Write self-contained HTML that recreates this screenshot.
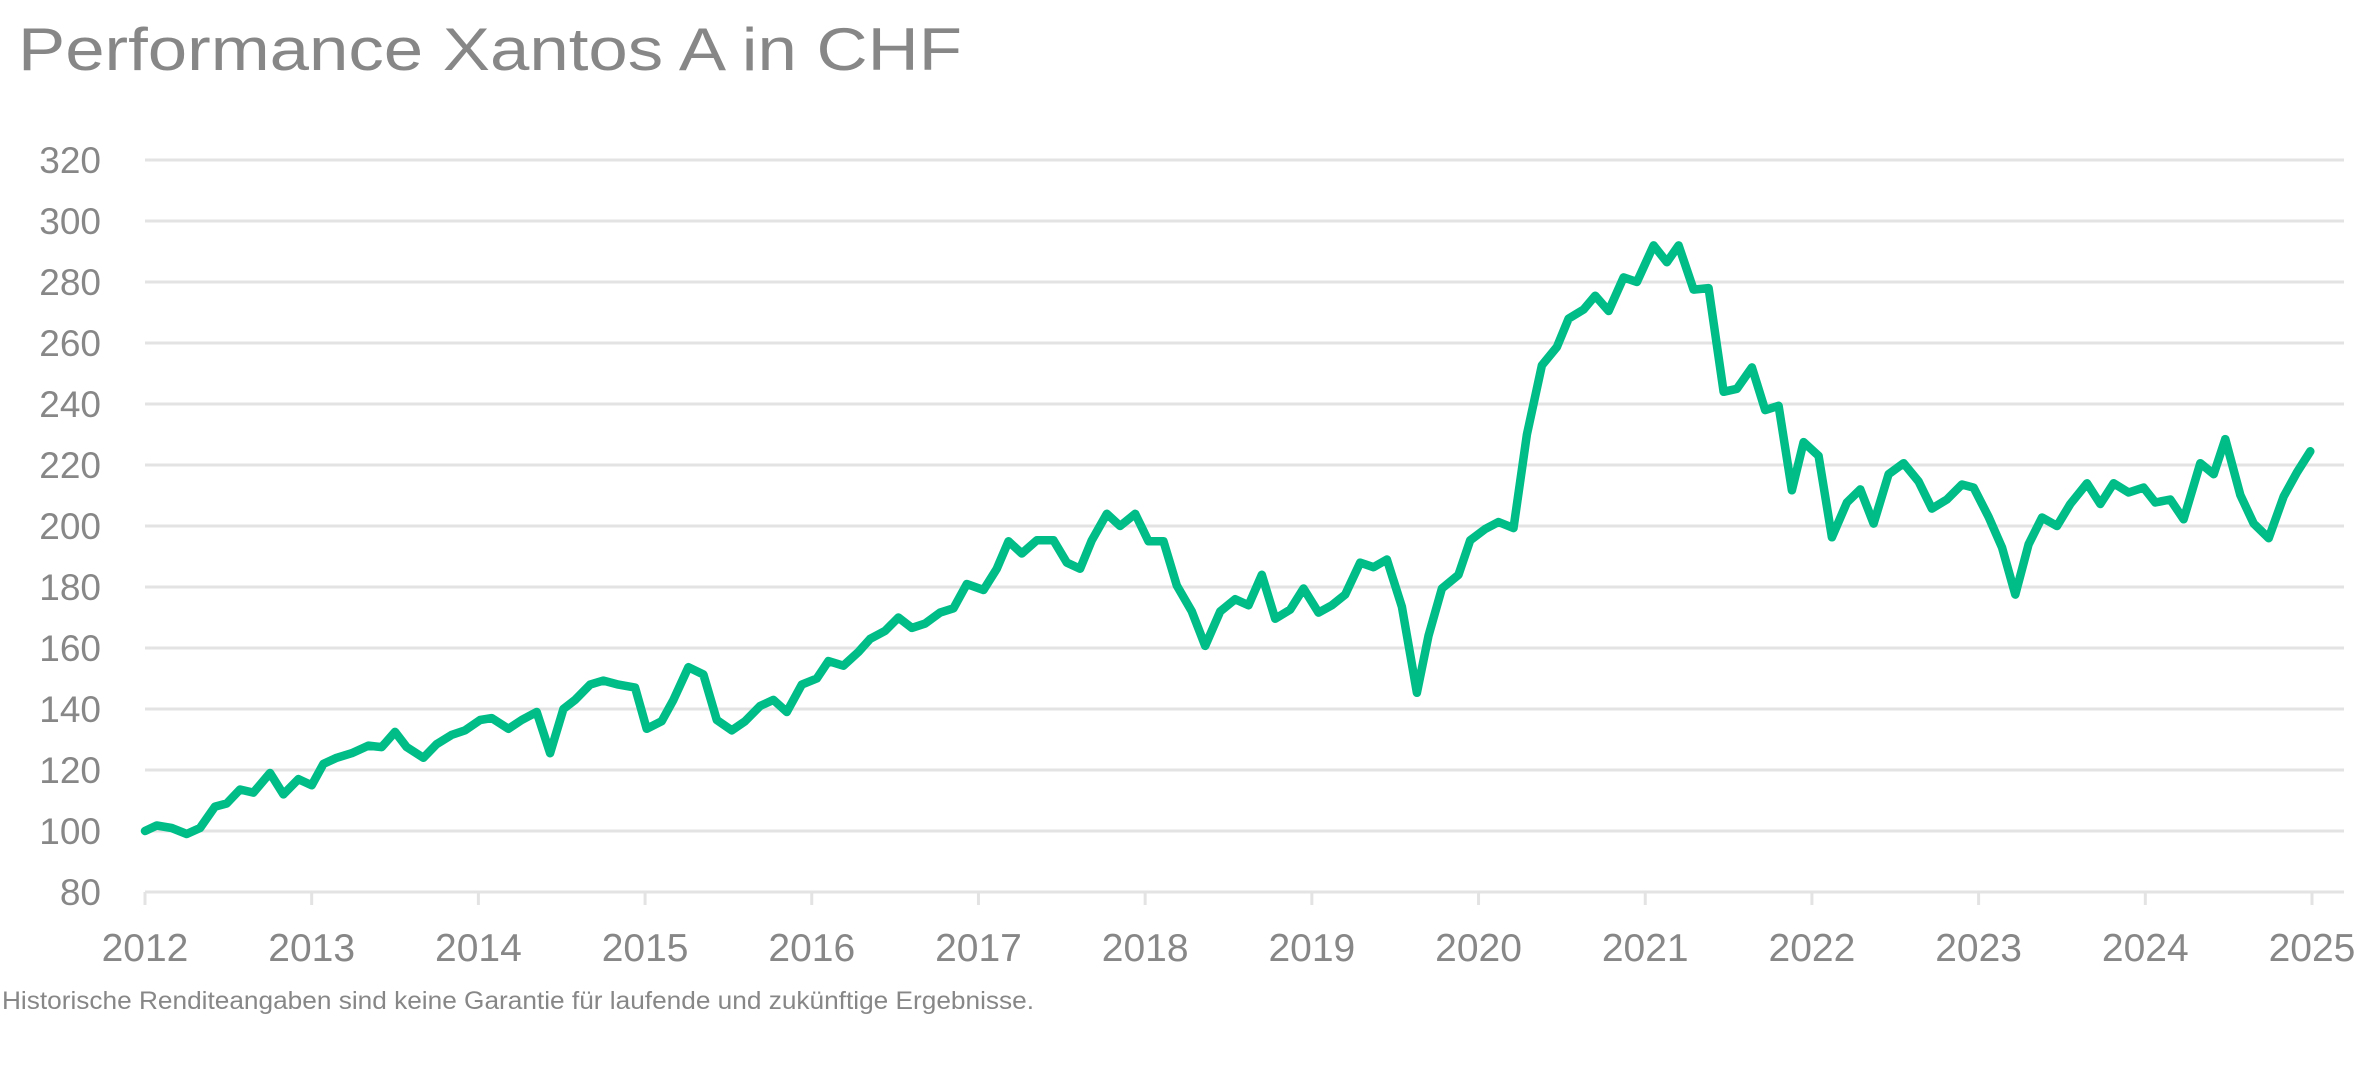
<!DOCTYPE html>
<html><head><meta charset="utf-8"><style>
html,body{margin:0;padding:0;background:#fff;}
svg{display:block;}
text{font-family:"Liberation Sans",sans-serif;fill:#878787;}
</style></head><body>
<svg id="chart" width="2371" height="1078" viewBox="0 0 2371 1078" xmlns="http://www.w3.org/2000/svg">
<text x="18" y="70" font-size="60" textLength="944" lengthAdjust="spacingAndGlyphs">Performance Xantos A in CHF</text>
<g id="grid"></g>
<g id="yaxis"></g>
<g id="xaxis"></g>
<g id="series"></g>
<text x="2" y="1009" font-size="25" textLength="1032" lengthAdjust="spacingAndGlyphs">Historische Renditeangaben sind keine Garantie für laufende und zukünftige Ergebnisse.</text>
</svg>
<script>
const yTicks=[80,100,120,140,160,180,200,220,240,260,280,300,320];
const xTicks=[2012,2013,2014,2015,2016,2017,2018,2019,2020,2021,2022,2023,2024,2025];
const dates=[2012.00,2012.07,2012.16,2012.25,2012.33,2012.42,2012.49,2012.57,2012.65,2012.75,2012.83,2012.92,2013.00,2013.07,2013.15,2013.24,2013.34,2013.42,2013.50,2013.57,2013.67,2013.75,2013.84,2013.92,2014.01,2014.08,2014.18,2014.26,2014.35,2014.43,2014.51,2014.58,2014.67,2014.75,2014.84,2014.94,2015.01,2015.10,2015.17,2015.26,2015.35,2015.43,2015.52,2015.60,2015.69,2015.77,2015.85,2015.94,2016.03,2016.10,2016.19,2016.28,2016.35,2016.44,2016.52,2016.60,2016.68,2016.77,2016.85,2016.93,2017.03,2017.11,2017.18,2017.26,2017.35,2017.45,2017.53,2017.61,2017.68,2017.77,2017.85,2017.94,2018.02,2018.11,2018.19,2018.28,2018.36,2018.45,2018.54,2018.62,2018.70,2018.78,2018.87,2018.95,2019.04,2019.12,2019.20,2019.29,2019.37,2019.45,2019.54,2019.63,2019.70,2019.78,2019.88,2019.95,2020.04,2020.12,2020.21,2020.29,2020.38,2020.47,2020.54,2020.63,2020.70,2020.78,2020.87,2020.95,2021.05,2021.13,2021.20,2021.29,2021.38,2021.47,2021.55,2021.64,2021.72,2021.80,2021.88,2021.95,2022.04,2022.12,2022.21,2022.29,2022.37,2022.46,2022.55,2022.64,2022.72,2022.81,2022.90,2022.97,2023.06,2023.14,2023.22,2023.30,2023.38,2023.47,2023.55,2023.65,2023.73,2023.81,2023.90,2023.99,2024.06,2024.15,2024.23,2024.33,2024.41,2024.48,2024.57,2024.65,2024.74,2024.83,2024.91,2024.99];
const values=[100,101.8,101,99,101,108,109,113.6,112.6,119,112,117,115,122,124,125.5,128,127.5,132.5,127.5,124,128.5,131.5,133,136.4,137,133.5,136.4,139,125.5,140,143,148,149.3,148,147,133.5,136,143,153.7,151.3,136.4,133,136,141,143,139,148,150,155.7,154.2,158.7,163,165.6,170,166.6,168,171.6,173,181,179,186,195,191,195.3,195.3,188,186,195.3,204,200,204,195,195,180.5,172,160.7,172,176,174,184,169.6,172.6,179.5,171.6,174,177.5,188,186.5,189,173.5,145.3,164,179.5,184,195.3,199,201.3,199.3,230,252.7,258.7,268,271,275.5,270.5,281.5,280,292,286.5,292,277.5,278,244,245,252,238,239.4,211.7,227.5,223,196.3,207.7,212,200.8,217,220.6,214.6,205.7,208.7,213.6,212.6,203,193,177.5,194,202.8,200,207.2,214,207.2,214,211,212.6,207.7,208.7,202.2,220.6,217,228.5,210.2,200.8,196,209.7,217.6,224.5,229];

const NS="http://www.w3.org/2000/svg";
const X0=145,X1=2312,Y0=892,Y1=160;
function xs(d){return X0+(d-2012)/(2025-2012)*(X1-X0);}
function ys(v){return Y0-(v-80)/(320-80)*(Y0-Y1);}
function mk(tag,attrs,parent){const e=document.createElementNS(NS,tag);for(const k in attrs)e.setAttribute(k,attrs[k]);parent.appendChild(e);return e;}
const grid=document.getElementById('grid'),ya=document.getElementById('yaxis'),xa=document.getElementById('xaxis'),ser=document.getElementById('series');
yTicks.forEach(v=>{
  const l=mk('line',{x1:X0,x2:2344,y1:ys(v),y2:ys(v),stroke:'#e3e3e3','stroke-width':3},grid);
  
  
  const t=mk('text',{x:101,y:ys(v)+13,'text-anchor':'end','font-size':37},ya);
  t.textContent=v;
  
  
});
xTicks.forEach(d=>{
  const l=mk('line',{x1:xs(d),x2:xs(d),y1:Y0,y2:905,stroke:'#e3e3e3','stroke-width':3},xa);
  
  
  const t=mk('text',{x:xs(d),y:961,'text-anchor':'middle','font-size':39},xa);
  t.textContent=d;
  
  
});
let pts=dates.map((d,i)=>xs(d).toFixed(1)+','+ys(values[i]).toFixed(1)).join(' ');
const pl=mk('polyline',{points:pts,fill:'none',stroke:'#00BD88','stroke-width':8.5,'stroke-linejoin':'round','stroke-linecap':'round'},ser);


</script>
</body></html>
